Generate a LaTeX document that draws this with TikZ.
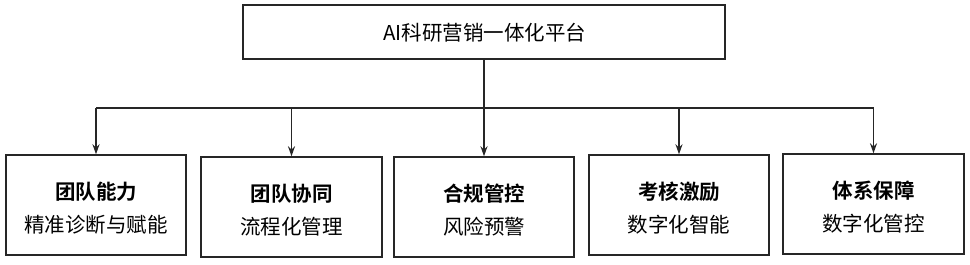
\documentclass[tikz,border=0pt]{standalone}
\usepackage{fontspec}
\newfontfamily\cjk{Noto Sans CJK SC}
\newfontfamily\cjkb{Noto Sans CJK SC Bold}
\usetikzlibrary{arrows.meta,calc}
\begin{document}
\begin{tikzpicture}[x=1pt,y=-1pt,
  box/.style={draw=black!85,line width=1.4pt,inner sep=0pt},
  conn/.style={draw=black!85,line width=1.4pt},
  arr/.style={conn,-{Stealth[length=10pt,width=7pt]}},
  tl/.style={font=\cjkb\fontsize{20.5pt}{22pt}\selectfont},
  sl/.style={font=\cjk\fontsize{20.5pt}{22pt}\selectfont}]
\useasboundingbox (0,0) rectangle (970,265);
\node[box,minimum width=482pt,minimum height=54pt] (top) at (484,32) {};
\node[font=\cjk\fontsize{20.5pt}{22pt}\selectfont] (ttext) at (485,33) {AI科研营销一体化平台};
\foreach \n/\cx/\cy/\w/\t/\s in {b1/96/205/180/团队能力/精准诊断与赋能, b2/291.5/207/181/团队协同/流程化管理, b3/484/207/180/合规管控/风险预警, b4/679/205/180/考核激励/数字化智能, b5/873.5/204/181/体系保障/数字化管控}{
  \node[box,minimum width=\w pt,minimum height=100pt] (\n) at (\cx,\cy) {};
  \node[tl] (\n t) at ($(\n.center)+(0,-13)$) {\t};
  \node[sl] (\n s) at ($(\n.center)+(0,20)$) {\s};
}
\coordinate (j) at (top.south |- 0,108);
\coordinate (l) at (b1.north |- j);
\coordinate (r) at (b5.north |- j);
\draw[conn] (l) -- (r);
\draw[arr] (top.south) -- (b3.north);
\foreach \n in {b1,b2,b4,b5}{
  \draw[arr] (\n.north |- j) -- (\n.north);
}
\end{tikzpicture}
\end{document}
